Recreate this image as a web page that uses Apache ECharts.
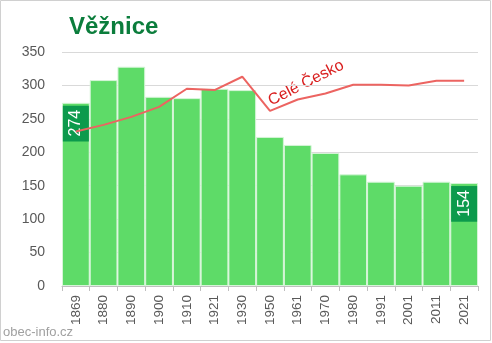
<!DOCTYPE html>
<html>
<head>
<meta charset="utf-8">
<script src="https://cdn.jsdelivr.net/npm/echarts@6/dist/echarts.min.js"></script>
<style>html,body{margin:0;padding:0;background:#fff}#c{width:492px;height:343px}</style>
</head>
<body>
<div id="c"></div>
<script>
const years = ['1869','1880','1890','1900','1910','1921','1930','1950','1961','1970','1980','1991','2001','2011','2021'];
const population = [274, 308, 328, 283, 281, 295, 293, 223, 211, 199, 167, 156, 150, 156, 154];
const czechiaScaled = [231, 241, 253, 268, 295, 293, 313, 262, 279, 288, 301, 301, 300, 307, 307];
const yTicks = {min: 0, max: 350, interval: 50};

const chart = echarts.init(document.getElementById('c'), null, {renderer: 'canvas'});
const labelStyle = {
  show: true, position: 'insideTop', distance: 3, rotate: 90,
  align: 'right', verticalAlign: 'middle',
  color: '#fff', fontSize: 16, fontFamily: 'Liberation Sans, Arial, sans-serif',
  backgroundColor: '#0C9A4C', padding: [4, 4, 4, 5], lineHeight: 18
};
const barData = population.map((v, i) => (i === 0 || i === population.length - 1)
  ? {value: v, label: labelStyle} : {value: v});

chart.setOption({
  animation: false,
  title: {
    text: 'Věžnice', left: 64, top: 10,
    textStyle: {color: '#0B7D3C', fontSize: 24, fontWeight: 'bold', fontFamily: 'Liberation Sans, Arial, sans-serif'}
  },
  grid: {left: 62, right: 14, top: 52, bottom: 57},
  xAxis: {
    type: 'category', data: years, boundaryGap: true,
    axisLine: {show: true, lineStyle: {color: '#bfbfbf'}},
    axisTick: {show: true, alignWithLabel: false, length: 5, lineStyle: {color: '#bfbfbf'}},
    axisLabel: {rotate: 90, margin: 9, color: '#595959', fontSize: 13.5, fontFamily: 'Liberation Sans, Arial, sans-serif'}
  },
  yAxis: {
    type: 'value', min: yTicks.min, max: yTicks.max, interval: yTicks.interval,
    axisLine: {show: false}, axisTick: {show: false},
    splitLine: {lineStyle: {color: '#d9d9d9'}},
    axisLabel: {margin: 17, color: '#595959', fontSize: 14, fontFamily: 'Liberation Sans, Arial, sans-serif'}
  },
  series: [
    {
      type: 'bar', data: barData, barCategoryGap: 0, barGap: 0,
      itemStyle: {color: '#5EDB68', borderColor: '#d6f5d8', borderWidth: 1},
      label: {show: false}
    },
    {
      type: 'line', data: czechiaScaled, symbol: 'none', smooth: false,
      lineStyle: {color: '#EC6461', width: 2}, z: 5
    }
  ],
  graphic: [
    {
      type: 'text', x: 306, y: 83, rotation: 27 * Math.PI / 180,
      style: {text: 'Celé Česko', fill: '#D91F1F',
        font: '16px Liberation Sans, Arial, sans-serif', textAlign: 'center', textVerticalAlign: 'middle'}
    },
    {
      type: 'text', x: 3, y: 332,
      style: {text: 'obec-info.cz', fill: '#a0a0a0', font: '13px Liberation Sans, Arial, sans-serif',
        textAlign: 'left', textVerticalAlign: 'middle'}
    },
    {
      type: 'rect', shape: {x: 0.5, y: 0.5, width: 490, height: 340},
      style: {fill: 'none', stroke: '#d0d0d0', lineWidth: 1}, silent: true
    }
  ]
});
</script>
</body>
</html>
